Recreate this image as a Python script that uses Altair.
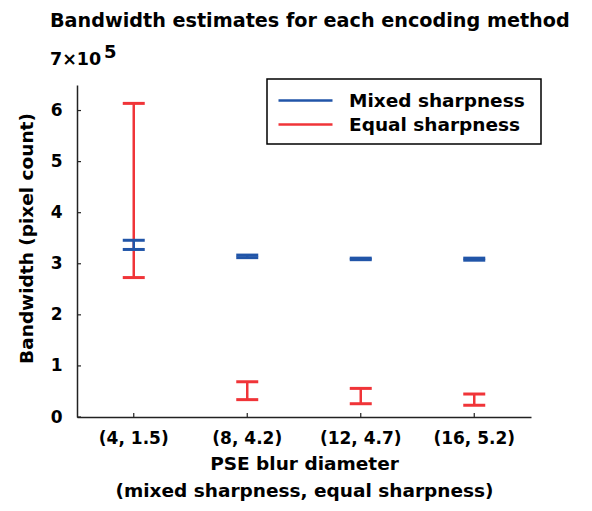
import altair as alt
import pandas as pd

groups = ["(4, 1.5)", "(8, 4.2)", "(12, 4.7)", "(16, 5.2)"]
series = ["Mixed sharpness", "Equal sharpness"]
mixed_low = [328000, 312000, 308000, 307000]
mixed_high = [346000, 317000, 311000, 311000]
equal_low = [273000, 34000, 26000, 23000]
equal_high = [614000, 69000, 56000, 45000]
y_ticks = [0, 100000, 200000, 300000, 400000, 500000, 600000]

BLUE = "#2155a8"
RED = "#f03438"
FONT = "DejaVu Sans"

rows = []
for i, g in enumerate(groups):
    rows.append({"group": g, "series": series[1], "low": equal_low[i], "high": equal_high[i]})
    rows.append({"group": g, "series": series[0], "low": mixed_low[i], "high": mixed_high[i]})
df = pd.DataFrame(rows)

x = alt.X("group:N", sort=groups,
          scale=alt.Scale(paddingInner=0, paddingOuter=0),
          axis=alt.Axis(title=["PSE blur diameter", "(mixed sharpness, equal sharpness)"],
                        labelAngle=0, ticks=False, labelPadding=13,
                        labelFont=FONT, labelFontSize=17, labelFontWeight="bold", labelColor="#000",
                        titleFont=FONT, titleFontSize=18.5, titleFontWeight="bold", titleColor="#000",
                        titleLineHeight=27, titlePadding=8,
                        domainColor="#222", domainWidth=1.5))
yscale = alt.Scale(domain=[0, 650000], nice=False, zero=True)
color = alt.Color("series:N", scale=alt.Scale(domain=series, range=[BLUE, RED]),
                  legend=alt.Legend(title=" ", titleOrient="right", titlePadding=6, titleFontSize=10,
                                    orient="none", legendX=190, legendY=-6,
                                    symbolType="M-2.7,0H2.7", symbolSize=400, symbolStrokeWidth=2.5,
                                    symbolOffset=17, symbolOpacity=1,
                                    labelFont=FONT, labelFontSize=18.5, labelFontWeight="bold",
                                    labelColor="#000", labelOffset=32, labelLimit=400,
                                    rowPadding=3, padding=10,
                                    strokeColor="#000", fillColor="#fff"))

yaxis = alt.Axis(title="Bandwidth (pixel count)", values=y_ticks, ticks=False, grid=False,
                 labelExpr="format(datum.value / 100000, 'd')", labelPadding=15,
                 labelFont=FONT, labelFontSize=17, labelFontWeight="bold", labelColor="#000",
                 titleFont=FONT, titleFontSize=18.5, titleFontWeight="bold", titleColor="#000",
                 titlePadding=14, titleY=153, domainColor="#222", domainWidth=1.5)

base = alt.Chart(df)

layers = []
for s in [series[1], series[0]]:
    sub = base.transform_filter(alt.datum.series == s)
    layers.append(sub.mark_rule(strokeWidth=2.5, opacity=1).encode(
        x=x, y=alt.Y("low:Q", scale=yscale, axis=yaxis), y2="high:Q", color=color))
    folded = sub.transform_fold(["low", "high"], as_=["end", "value"])
    layers.append(folded.mark_tick(size=22, thickness=3, opacity=1).encode(
        x=x, y=alt.Y("value:Q", scale=yscale), color=color))

# inward axis ticks
ytick_df = pd.DataFrame({"v": y_ticks})
ytick_layer = alt.Chart(ytick_df).mark_rule(color="#222", strokeWidth=1.2).encode(
    y=alt.Y("v:Q", scale=yscale), x=alt.value(0), x2=alt.value(4))
xtick_df = pd.DataFrame({"group": groups})
xtick_layer = alt.Chart(xtick_df).mark_rule(color="#222", strokeWidth=1.2).encode(
    x=x, y=alt.value(332), y2=alt.value(328))

title_layer = alt.Chart(pd.DataFrame({"t": ["Bandwidth estimates for each encoding method"]})).mark_text(
    font=FONT, fontSize=19.2, fontWeight="bold", align="left", baseline="alphabetic", color="#000"
).encode(text="t:N", x=alt.value(-27), y=alt.value(-58))
mult_layer = alt.Chart(pd.DataFrame({"t": ["7×10"]})).mark_text(
    font=FONT, fontSize=17.5, fontWeight="bold", align="left", baseline="alphabetic", color="#000"
).encode(text="t:N", x=alt.value(-27), y=alt.value(-20))
exp_layer = alt.Chart(pd.DataFrame({"t": ["5"]})).mark_text(
    font=FONT, fontSize=18, fontWeight="bold", align="left", baseline="alphabetic", color="#000"
).encode(text="t:N", x=alt.value(27), y=alt.value(-27))

chart = alt.layer(*layers, ytick_layer, xtick_layer, title_layer, mult_layer, exp_layer).properties(
    width=454, height=332,
    autosize=alt.AutoSizeParams(type="none"),
    padding={"left": 69, "top": 77, "right": 53, "bottom": 86},
).configure_view(stroke=None).configure_legend(strokeWidth=1.5)

chart.save("out.html", embed_options={"renderer": "svg", "actions": False})
